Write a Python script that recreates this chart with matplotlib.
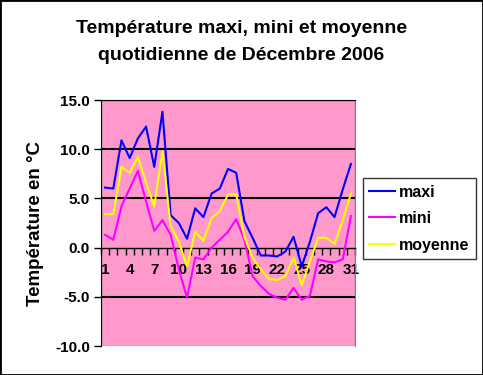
import numpy as np
import matplotlib
matplotlib.use('Agg')
import matplotlib.pyplot as plt
from matplotlib.patches import Rectangle

plt.rcParams['font.family'] = ['Liberation Sans', 'DejaVu Sans']

# donnees (decembre 2006)
days = list(range(1, 32))
maxi = [6.1, 6.0, 10.9, 9.1, 11.1, 12.3, 8.2, 13.8, 3.3, 2.5, 0.9, 4.0, 3.1, 5.5, 6.0, 8.0,
        7.6, 2.7, 1.0, -0.8, -0.8, -0.9, -0.4, 1.1, -1.9, 0.6, 3.5, 4.1, 3.1, 5.9, 8.5]
mini = [1.3, 0.8, 4.2, 6.0, 7.8, 4.7, 1.7, 2.8, 1.3, -2.2, -5.1, -1.0, -1.2, 0.0, 0.8, 1.6,
        2.9, 0.8, -2.9, -3.9, -4.7, -5.1, -5.3, -4.1, -5.3, -4.9, -1.2, -1.4, -1.5, -1.2, 3.2]
moyenne = [3.4, 3.4, 8.2, 7.6, 9.2, 6.6, 4.2, 9.8, 2.2, 0.6, -1.9, 1.6, 0.7, 3.0, 3.7, 5.4,
           5.4, 1.1, -1.0, -2.2, -3.2, -3.3, -2.9, -1.0, -3.8, -1.4, 1.0, 1.0, 0.4, 2.8, 5.5]
yticks = [-10, -5, 0, 5, 10, 15]
xlabels_days = days[::3]

fig = plt.figure(figsize=[4.83, 3.75], dpi=100)
ax = fig.add_axes([0.2091, 0.0773, 0.5259, 0.656])
ax.set_facecolor('#FF99CC')

ax.plot(days, maxi, color='#0000FF', lw=1.5, label='maxi', zorder=3)
ax.plot(days, mini, color='#FF00FF', lw=1.5, label='mini', zorder=3)
ax.plot(days, moyenne, color='#FFFF00', lw=1.5, label='moyenne', zorder=3)

ax.set_xlim(0.5, 31.5)
ax.set_ylim(-10, 15)
for v in [15, 10, 5, -5]:
    ax.axhline(v, color='black', lw=1.5, zorder=1)

ax.set_yticks(yticks)
ax.set_yticklabels(['%.1f' % v for v in yticks], fontsize=11, fontweight='bold')
ax.tick_params(axis='y', direction='out', length=5, width=1, pad=3)

# axe des categories au niveau de zero
ax.spines['bottom'].set_position(('data', 0))
ax.spines['bottom'].set_color('black')
ax.spines['bottom'].set_linewidth(1)
ax.set_xticks(xlabels_days)
ax.set_xticklabels([str(d) for d in xlabels_days], fontsize=11, fontweight='bold')
ax.set_xticks(np.arange(0.5, 32, 1), minor=True)
ax.tick_params(axis='x', which='major', length=0, pad=11)
ax.tick_params(axis='x', which='minor', direction='out', length=5, width=1)

ax.spines['left'].set_color('black')
ax.spines['right'].set_color('#808080')
ax.spines['top'].set_color('black')
ax.add_patch(Rectangle((0, 0), 1, 1, transform=ax.transAxes, fill=False,
                       edgecolor='#808080', lw=1, zorder=0.5))

ax.set_ylabel('Température en °C', fontsize=13.5, fontweight='bold', labelpad=8)

fig.text(0.5, 0.925, 'Température maxi, mini et moyenne', ha='center', va='center',
         fontsize=14, fontweight='bold')
fig.text(0.5, 0.852, 'quotidienne de Décembre 2006', ha='center', va='center',
         fontsize=14, fontweight='bold')

leg = fig.legend(loc='upper left', bbox_to_anchor=(0.7516, 0.525),
                 prop={'size': 11.5, 'weight': 'bold'},
                 frameon=True, fancybox=False, handlelength=1.6, handletextpad=0.25,
                 borderpad=0.4, labelspacing=0.72, borderaxespad=0)
leg.get_frame().set_edgecolor('black')
leg.get_frame().set_linewidth(1)

fig.add_artist(Rectangle((0, 0), 1, 1, transform=fig.transFigure, fill=False,
                         edgecolor='black', lw=2))

fig.savefig('out.png', dpi=100)
